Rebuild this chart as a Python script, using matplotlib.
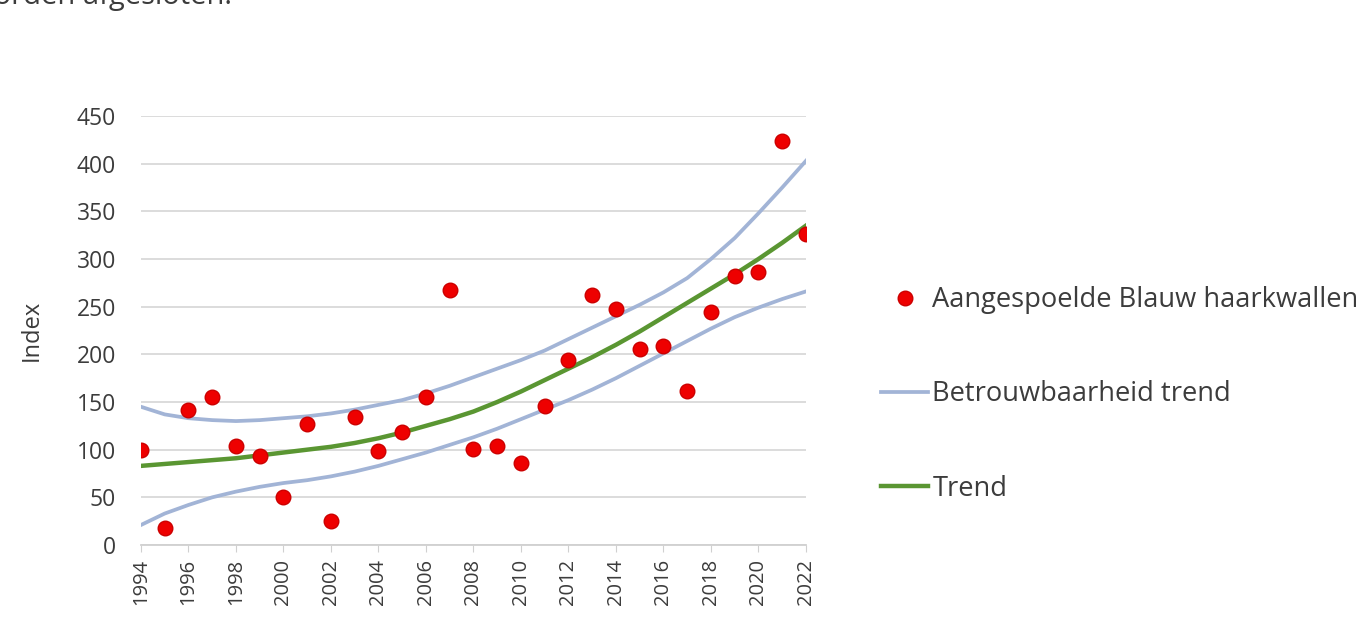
import matplotlib.pyplot as plt

plt.rcParams['font.family'] = ['Open Sans', 'DejaVu Sans']

years = list(range(1994, 2023))
index_values = [100, 18, 142, 155, 104, 93, 50, 127, 25, 134, 99, 119, 155, 267,
                101, 104, 86, 146, 194, 262, 248, 206, 209, 162, 244, 282, 286, 424, 326]
trend = [83, 85, 87, 89, 91, 94, 97, 100, 103, 107, 112, 118, 125, 132, 140,
         150, 161, 173, 185, 197, 210, 224, 239, 254, 269, 284, 300, 317, 335]
upper = [145, 137, 133, 131, 130, 131, 133, 135, 138, 142, 147, 152, 159, 167, 176,
         185, 194, 204, 216, 228, 240, 252, 265, 280, 300, 322, 348, 375, 403]
lower = [21, 33, 42, 50, 56, 61, 65, 68, 72, 77, 83, 90, 97, 105, 113,
         122, 132, 142, 152, 163, 175, 188, 201, 214, 227, 239, 249, 258, 266]

text_col = '#3c3c3c'
blue = '#a2b4d6'
green = '#5a9632'

fig = plt.figure(figsize=(13.58, 6.23), dpi=100)
ax = fig.add_axes([0.1038, 0.1252, 0.4897, 0.6886])

ax.plot(years, upper, color=blue, lw=2.7, label='Betrouwbaarheid trend', zorder=2)
ax.plot(years, lower, color=blue, lw=2.7, zorder=2)
ax.plot(years, trend, color=green, lw=3.2, label='Trend', zorder=3)
pts, = ax.plot(years, index_values, 'o', ls='none', color='#ee0000', mec='#cc0000',
               ms=10.5, label='Aangespoelde Blauw haarkwallen', zorder=4)

ax.set_xlim(1994, 2022)
ax.set_ylim(0, 450)
ax.set_yticks(range(0, 451, 50))
ax.set_xticks(range(1994, 2023, 2))
ax.set_xticklabels([str(y) for y in range(1994, 2023, 2)], rotation=90)
ax.yaxis.grid(True, color='#d9d9d9', lw=1.3)
ax.set_axisbelow(True)
for s in ['top', 'right', 'left']:
    ax.spines[s].set_visible(False)
ax.spines['bottom'].set_color('#d0d0d0')
ax.spines['bottom'].set_linewidth(1.3)
ax.tick_params(axis='y', length=0, labelsize=16.5, labelcolor=text_col, pad=18)
ax.tick_params(axis='x', length=5, color='#d0d0d0', labelsize=14.5, labelcolor=text_col, pad=5)
ax.set_ylabel('Index', fontsize=17, color=text_col, labelpad=24)

handles = [pts, ax.lines[0], ax.lines[2]]
labels = [h.get_label() for h in handles]
ax.legend(handles, labels, loc='center left', bbox_to_anchor=(1.113, 0.351), frameon=False,
          fontsize=19.6, labelcolor=text_col, handlelength=1.73, handletextpad=0.15,
          labelspacing=2.43, borderaxespad=0, borderpad=0)

fig.text(-0.021, 0.993, 'worden afgesloten.', fontsize=21, color=text_col, va='baseline')

fig.savefig('out.png', dpi=100)
